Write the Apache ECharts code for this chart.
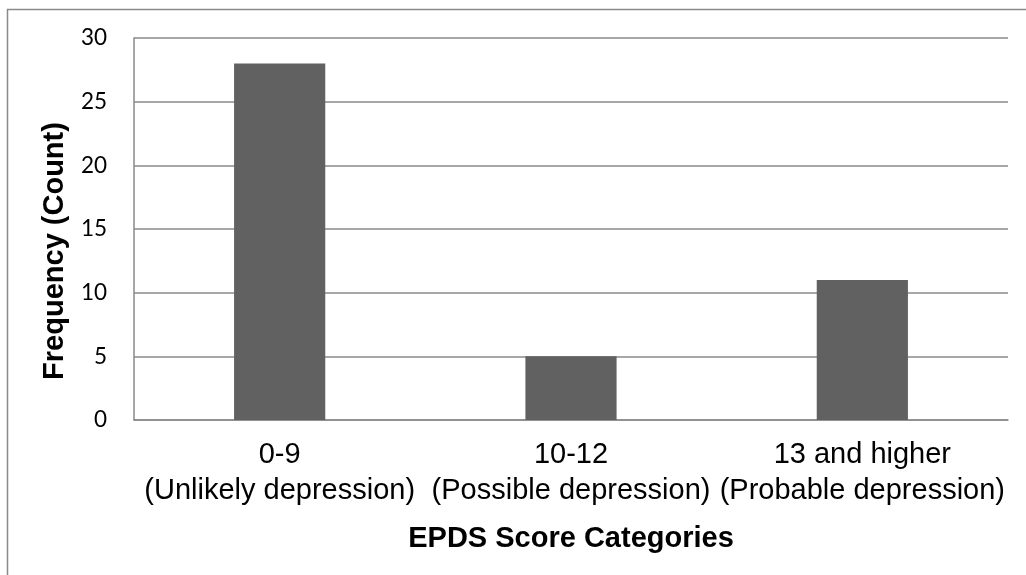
<!DOCTYPE html>
<html>
<head>
<meta charset="utf-8">
<script src="https://cdn.jsdelivr.net/npm/echarts@6/dist/echarts.min.js"></script>
<style>
  html, body { margin: 0; padding: 0; background: #fff; }
  #chart { width: 1026px; height: 575px; }
</style>
</head>
<body>
<div id="chart"></div>
<script>
// EPDS score categories and respondent counts
const categories = [
  '0-9\n(Unlikely depression)',
  '10-12\n(Possible depression)',
  '13 and higher\n(Probable depression)'
];
const counts = [28, 5, 11];
const yTicks = { min: 0, max: 30, interval: 5 };

const chart = echarts.init(document.getElementById('chart'), null, { renderer: 'canvas' });

chart.setOption({
  animation: false,
  backgroundColor: '#ffffff',
  graphic: [{
    type: 'rect',
    shape: { x: 7.5, y: 9.5, width: 1100, height: 700 },
    style: { fill: 'none', stroke: '#8a8a8a', lineWidth: 1.5 },
    silent: true
  }],
  grid: { left: 134, right: 18, top: 38, bottom: 155, containLabel: false },
  xAxis: {
    type: 'category',
    data: categories,
    name: 'EPDS Score Categories',
    nameLocation: 'middle',
    nameGap: 104,
    nameTextStyle: { fontFamily: 'Liberation Sans', fontSize: 29, fontWeight: 'bold', color: '#000' },
    axisLine: { lineStyle: { color: '#8a8a8a', width: 1.5 } },
    axisTick: { show: false },
    axisLabel: {
      fontFamily: 'Liberation Sans', fontSize: 29, color: '#000',
      lineHeight: 36, margin: 17, interval: 0
    }
  },
  yAxis: {
    type: 'value',
    min: yTicks.min, max: yTicks.max, interval: yTicks.interval,
    name: 'Frequency (Count)',
    nameLocation: 'middle',
    nameGap: 64,
    nameTextStyle: {
      fontFamily: 'Liberation Sans', fontSize: 29, fontWeight: 'bold', color: '#000',
      padding: [0, 44, 0, 0]
    },
    axisLine: { show: true, lineStyle: { color: '#8a8a8a', width: 1.5 } },
    axisTick: { show: false },
    axisLabel: { fontFamily: 'Lato', fontSize: 22.5, color: '#000', margin: 27 },
    splitLine: { lineStyle: { color: '#8a8a8a', width: 1.5 } }
  },
  series: [{
    type: 'bar',
    data: counts,
    barWidth: '31.3%',
    itemStyle: { color: '#616161' }
  }]
});
</script>
</body>
</html>
